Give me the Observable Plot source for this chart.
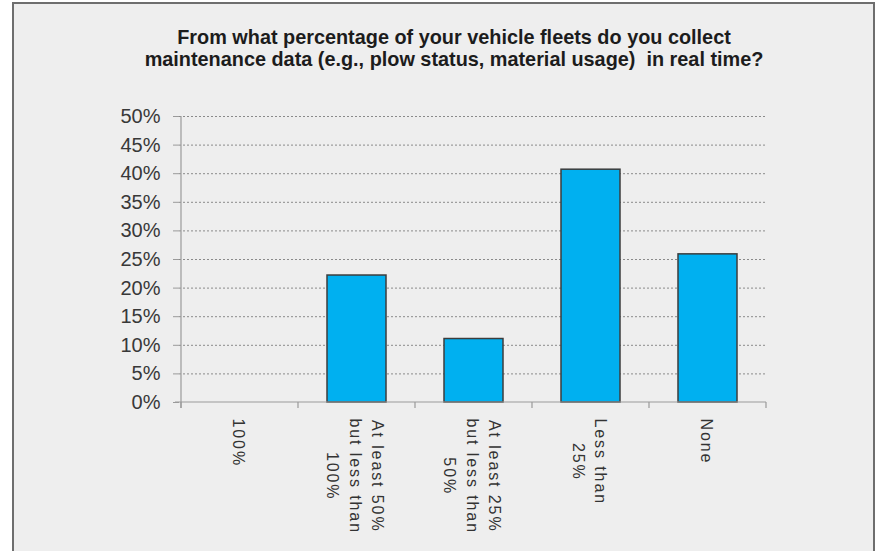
<!DOCTYPE html>
<html>
<head>
<meta charset="utf-8">
<script src="https://cdn.jsdelivr.net/npm/d3@7"></script>
<script src="https://cdn.jsdelivr.net/npm/@observablehq/plot@0.6"></script>
<style>
  html, body { margin: 0; padding: 0; background: #ffffff; width: 877px; height: 551px; overflow: hidden; }
  #frame { position: absolute; left: 12px; top: 2px; width: 859px; height: 600px; border: 2px solid #6e6e6e; background: #eeeeee; }
  #title { position: absolute; left: 0; top: 26px; width: 908px; text-align: center;
           font-family: "Liberation Sans", Arial, sans-serif;
           font-weight: bold; font-size: 21px; line-height: 22px; color: #1c1c1c;
           transform: scaleX(0.945); transform-origin: 454px 0; }
  #chart { position: absolute; left: 0; top: 0; }
</style>
</head>
<body>
<div id="frame"></div>
<div id="title"></div>
<div id="chart"></div>
<script>
// Survey answers and their shares of respondents
const categories = [
  "100%",
  "At least 50% but less than 100%",
  "At least 25% but less than 50%",
  "Less than 25%",
  "None"
];
const shares = [0, 0.222, 0.111, 0.407, 0.259];
const tickLabels = [
  "100%",
  "At least 50%\nbut less than\n100%",
  "At least 25%\nbut less than\n50%",
  "Less than\n25%",
  "None"
];
const yTicks = [0, 0.05, 0.10, 0.15, 0.20, 0.25, 0.30, 0.35, 0.40, 0.45, 0.50];
const titleLines = [
  "From what percentage of your vehicle fleets do you collect",
  "maintenance data (e.g., plow status, material usage)  in real time?"
];

const rows = categories.map((c, i) => ({category: c, share: shares[i], label: tickLabels[i]}));

document.getElementById("title").innerHTML = titleLines.map(t => t.replace(/ {2}/g, " &nbsp;")).join("<br>");

// Excel-style axis lines with tick marks on the category boundaries
function axisLines(index, scales) {
  const x = scales.x, y = scales.y;
  const bw = typeof x.bandwidth === "function" ? x.bandwidth() : x.bandwidth;
  const step = typeof x.step === "function" ? x.step() : bw / 0.5;
  const lefts = categories.map(c => x(c) - (step - bw) / 2);
  const bounds = [...lefts, lefts[lefts.length - 1] + step];
  const y0 = y(0), yTop = y(yTicks[yTicks.length - 1]);
  const g = d3.create("svg:g").attr("stroke", "#9a9a9a").attr("stroke-width", 1.2).attr("fill", "none");
  g.append("line").attr("x1", bounds[0]).attr("x2", bounds[0]).attr("y1", yTop).attr("y2", y0 + 6);
  g.append("line").attr("x1", bounds[0] - 6).attr("x2", bounds[bounds.length - 1]).attr("y1", y0).attr("y2", y0);
  for (const b of bounds) {
    g.append("line").attr("x1", b).attr("x2", b).attr("y1", y0).attr("y2", y0 + 6);
  }
  return g.node();
}

const chart = Plot.plot({
  width: 877,
  height: 551,
  marginLeft: 179,
  marginRight: 110,
  marginTop: 116,
  marginBottom: 149,
  style: {background: "transparent", fontFamily: "'Liberation Sans', Arial, sans-serif", overflow: "visible"},
  x: {domain: categories, paddingInner: 0.5, paddingOuter: 0.25, axis: null},
  y: {domain: [0, 0.5], axis: null},
  marks: [
    Plot.ruleY(yTicks.filter(t => t > 0), {stroke: "#8a8a8a", strokeWidth: 1, strokeDasharray: "2,2"}),
    Plot.barY(rows, {x: "category", y: "share", fill: "#00b0f0", stroke: "#3c3c3c", strokeWidth: 1.5}),
    axisLines,
    Plot.axisY({
      ticks: yTicks,
      tickFormat: d3.format(".0%"),
      tickSize: 6,
      tickPadding: 13,
      fontSize: 20,
      fill: "#383838",
      stroke: "#9a9a9a",
      label: null
    }),
    Plot.text(rows, {
      x: "category",
      text: "label",
      frameAnchor: "bottom",
      dy: 16,
      rotate: 90,
      textAnchor: "start",
      lineAnchor: "middle",
      lineHeight: 1.4,
      fontSize: 16,
      fill: "#333333"
    })
  ]
});

document.getElementById("chart").append(chart);

// Centre each wrapped category label's lines on one another, top-aligned under the axis
chart.querySelectorAll('g[aria-label="text"] text').forEach(t => {
  t.style.letterSpacing = "1.9px";
  const spans = Array.from(t.querySelectorAll("tspan"));
  const parts = spans.length ? spans : [t];
  const maxLen = Math.max(...parts.map(p => p.getComputedTextLength()));
  t.setAttribute("text-anchor", "middle");
  parts.forEach(p => p.setAttribute("x", maxLen / 2));
});
</script>
</body>
</html>
